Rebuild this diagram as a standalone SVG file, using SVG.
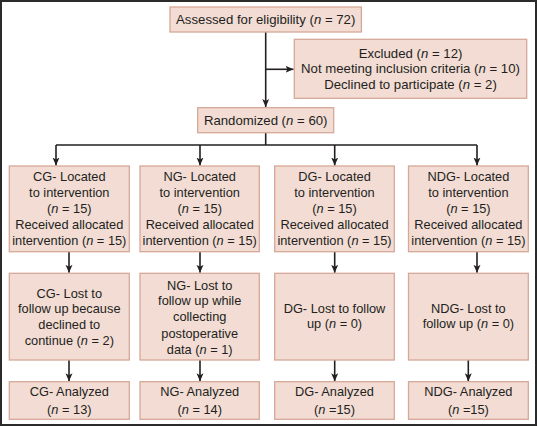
<svg xmlns="http://www.w3.org/2000/svg" width="538" height="427" viewBox="0 0 538 427">
<defs>
<style>
.box{fill:#f2dcd4;stroke:#d6a898;stroke-width:1.3}
.t{font-family:"Liberation Sans",Arial,sans-serif;font-size:12.8px;fill:#231f20;text-anchor:middle}
.tl{font-size:13.2px}
.i{font-style:italic}
.ln{fill:none;stroke:#231f20;stroke-width:1.6}
</style>
<marker id="ah" markerWidth="8" markerHeight="8" viewBox="0 0 8 8" refX="8" refY="4" orient="auto" markerUnits="userSpaceOnUse">
<path d="M0,0.5 L8,4 L0,7.5 L2,4 Z" fill="#231f20"/>
</marker>
</defs>
<rect x="1" y="1" width="535" height="424" fill="#ffffff" stroke="#2b2b2b" stroke-width="2"/>
<g id="connectors">
<path class="ln" d="M265.7,32 V107" marker-end="url(#ah)"/>
<path class="ln" d="M265.7,69.3 H293.5" marker-end="url(#ah)"/>
<path class="ln" d="M265.7,132.7 V145"/>
<path class="ln" d="M56,145 H477"/>
<path class="ln" d="M56,145 V165.5" marker-end="url(#ah)"/>
<path class="ln" d="M200,145 V165.5" marker-end="url(#ah)"/>
<path class="ln" d="M334.7,145 V165.5" marker-end="url(#ah)"/>
<path class="ln" d="M477,145 V165.5" marker-end="url(#ah)"/>
<path class="ln" d="M69,251.7 V272.8" marker-end="url(#ah)"/>
<path class="ln" d="M200,251.7 V272.8" marker-end="url(#ah)"/>
<path class="ln" d="M334.7,251.7 V272.8" marker-end="url(#ah)"/>
<path class="ln" d="M477,251.7 V272.8" marker-end="url(#ah)"/>
<path class="ln" d="M69,360 V381.3" marker-end="url(#ah)"/>
<path class="ln" d="M200,360 V381.3" marker-end="url(#ah)"/>
<path class="ln" d="M334.7,360 V381.3" marker-end="url(#ah)"/>
<path class="ln" d="M468.3,360 V381.3" marker-end="url(#ah)"/>
</g>
<g id="assessed">
<rect class="box" x="170" y="7" width="191.4" height="25"/>
<text class="t tl" x="265.7" y="24">Assessed for eligibility (<tspan class="i">n</tspan> = 72)</text>
</g>
<g id="excluded">
<rect class="box" x="294.3" y="39.3" width="232.4" height="59"/>
<text class="t tl" x="410.5" y="57.8">Excluded (<tspan class="i">n</tspan> = 12)</text>
<text class="t tl" x="410.5" y="73">Not meeting inclusion criteria (<tspan class="i">n</tspan> = 10)</text>
<text class="t tl" x="410.5" y="88.5">Declined to participate (<tspan class="i">n</tspan> = 2)</text>
</g>
<g id="randomized">
<rect class="box" x="197.7" y="107.7" width="136" height="25"/>
<text class="t tl" x="265.7" y="124.5">Randomized (<tspan class="i">n</tspan> = 60)</text>
</g>
<g id="cg-located">
<rect class="box" x="9.3" y="166" width="120" height="85.7"/>
<text class="t" x="69.3" y="181.2">CG- Located</text>
<text class="t" x="69.3" y="197.2">to intervention</text>
<text class="t" x="69.3" y="213.3">(<tspan class="i">n</tspan> = 15)</text>
<text class="t" x="69.3" y="228.8">Received allocated</text>
<text class="t" x="69.3" y="244.5">intervention (<tspan class="i">n</tspan> = 15)</text>
</g>
<g id="ng-located">
<rect class="box" x="140" y="166" width="119.3" height="85.7"/>
<text class="t" x="199.7" y="181.2">NG- Located</text>
<text class="t" x="199.7" y="197.2">to intervention</text>
<text class="t" x="199.7" y="213.3">(<tspan class="i">n</tspan> = 15)</text>
<text class="t" x="199.7" y="228.8">Received allocated</text>
<text class="t" x="199.7" y="244.5">intervention (<tspan class="i">n</tspan> = 15)</text>
</g>
<g id="dg-located">
<rect class="box" x="274.7" y="166" width="119.6" height="85.7"/>
<text class="t" x="334.5" y="181.2">DG- Located</text>
<text class="t" x="334.5" y="197.2">to intervention</text>
<text class="t" x="334.5" y="213.3">(<tspan class="i">n</tspan> = 15)</text>
<text class="t" x="334.5" y="228.8">Received allocated</text>
<text class="t" x="334.5" y="244.5">intervention (<tspan class="i">n</tspan> = 15)</text>
</g>
<g id="ndg-located">
<rect class="box" x="408.5" y="166" width="119.8" height="85.7"/>
<text class="t" x="468.4" y="181.2">NDG- Located</text>
<text class="t" x="468.4" y="197.2">to intervention</text>
<text class="t" x="468.4" y="213.3">(<tspan class="i">n</tspan> = 15)</text>
<text class="t" x="468.4" y="228.8">Received allocated</text>
<text class="t" x="468.4" y="244.5">intervention (<tspan class="i">n</tspan> = 15)</text>
</g>
<g id="cg-lost">
<rect class="box" x="9.3" y="273.3" width="120" height="86.7"/>
<text class="t" x="69.3" y="297.8">CG- Lost to</text>
<text class="t" x="69.3" y="312.8">follow up because</text>
<text class="t" x="69.3" y="328.8">declined to</text>
<text class="t" x="69.3" y="345.2">continue (<tspan class="i">n</tspan> = 2)</text>
</g>
<g id="ng-lost">
<rect class="box" x="140" y="273.3" width="119.3" height="86.7"/>
<text class="t" x="199.7" y="289.5">NG- Lost to</text>
<text class="t" x="199.7" y="305.2">follow up while</text>
<text class="t" x="199.7" y="321.2">collecting</text>
<text class="t" x="199.7" y="337.8">postoperative</text>
<text class="t" x="199.7" y="353.5">data (<tspan class="i">n</tspan> = 1)</text>
</g>
<g id="dg-lost">
<rect class="box" x="274.7" y="273.3" width="119.6" height="86.7"/>
<text class="t" x="334.5" y="312.5">DG- Lost to follow</text>
<text class="t" x="334.5" y="327.8">up (<tspan class="i">n</tspan> = 0)</text>
</g>
<g id="ndg-lost">
<rect class="box" x="408.5" y="273.3" width="119.8" height="86.7"/>
<text class="t" x="468.4" y="312.8">NDG- Lost to</text>
<text class="t" x="468.4" y="327.8">follow up (<tspan class="i">n</tspan> = 0)</text>
</g>
<g id="cg-analyzed">
<rect class="box" x="9.3" y="381.7" width="120" height="37.6"/>
<text class="t" x="69.3" y="396.2">CG- Analyzed</text>
<text class="t" x="69.3" y="413.8">(<tspan class="i">n</tspan> = 13)</text>
</g>
<g id="ng-analyzed">
<rect class="box" x="140" y="381.7" width="119.3" height="37.6"/>
<text class="t" x="199.7" y="396.2">NG- Analyzed</text>
<text class="t" x="199.7" y="413.8">(<tspan class="i">n</tspan> = 14)</text>
</g>
<g id="dg-analyzed">
<rect class="box" x="274.7" y="381.7" width="119.6" height="37.6"/>
<text class="t" x="334.5" y="396.2">DG- Analyzed</text>
<text class="t" x="334.5" y="413.8">(<tspan class="i">n</tspan> =15)</text>
</g>
<g id="ndg-analyzed">
<rect class="box" x="408.5" y="381.7" width="119.8" height="37.6"/>
<text class="t" x="468.4" y="396.2">NDG- Analyzed</text>
<text class="t" x="468.4" y="413.8">(<tspan class="i">n</tspan> =15)</text>
</g>
</svg>
